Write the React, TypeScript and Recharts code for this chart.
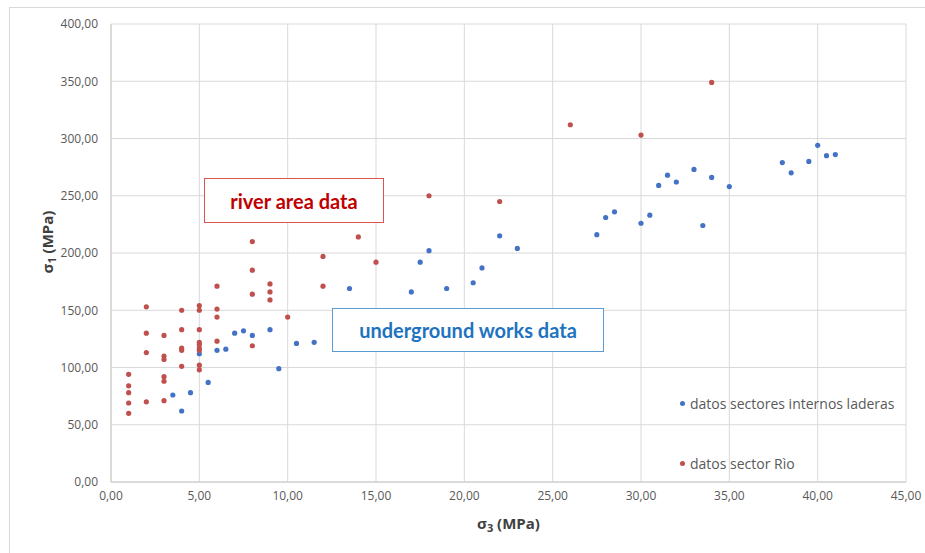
import React from 'react';
import { ScatterChart, Scatter, XAxis, YAxis, CartesianGrid, Legend, Label } from 'recharts';

// sigma3 / sigma1 (MPa)
const laderasSigma3 = [4, 3.5, 4.5, 5.5, 9.5, 5, 6, 6.5, 10.5, 11.5, 7, 7.5, 8, 9, 13.5, 17, 19, 20.5, 21, 17.5, 18, 22, 23, 27.5, 28, 28.5, 30, 30.5, 31, 31.5, 32, 33, 33.5, 34, 35, 38, 38.5, 39.5, 40, 40.5, 41];
const laderasSigma1 = [62, 76, 78, 87, 99, 112, 115, 116, 121, 122, 130, 132, 128, 133, 169, 166, 169, 174, 187, 192, 202, 215, 204, 216, 231, 236, 226, 233, 259, 268, 262, 273, 224, 266, 258, 279, 270, 280, 294, 285, 286];

const rioSigma3 = [1, 1, 1, 1, 1, 2, 2, 2, 2, 3, 3, 3, 3, 3, 3, 4, 4, 4, 4, 4, 5, 5, 5, 5, 5, 5, 5, 5, 5, 6, 6, 6, 6, 8, 8, 8, 8, 9, 9, 9, 10, 12, 12, 14, 15, 18, 22, 26, 30, 34];
const rioSigma1 = [94, 84, 78, 69, 60, 153, 130, 113, 70, 128, 110, 107, 92, 88, 71, 150, 133, 117, 115, 101, 154, 150, 133, 122, 120, 117, 115, 102, 98, 171, 151, 144, 123, 210, 185, 164, 119, 173, 166, 159, 144, 197, 171, 214, 192, 250, 245, 312, 303, 349];

const xTicks = [0, 5, 10, 15, 20, 25, 30, 35, 40, 45];
const yTicks = [0, 50, 100, 150, 200, 250, 300, 350, 400];

const seriesNames = ['datos sectores internos laderas', 'datos sector Rìo'];

const laderas = laderasSigma3.map((x, i) => ({ x, y: laderasSigma1[i] }));
const rio = rioSigma3.map((x, i) => ({ x, y: rioSigma1[i] }));

const BLUE = '#4472c4';
const RED = '#c0504d';
const FONT = '"Open Sans", sans-serif';

const fmt = (v: number) => v.toFixed(2).replace('.', ',');

const dot = (color: string) => (p: any) => <circle cx={p.cx} cy={p.cy} r={2.6} fill={color} />;

const sigmaTitle = (sub: string, vertical: boolean) => (props: any) => {
  const vb = props.viewBox || {};
  const cx = vertical ? 47 : vb.x + vb.width / 2;
  const cy = vertical ? 242 : 523;
  return (
    <text
      x={cx}
      y={cy}
      textAnchor="middle"
      dominantBaseline="central"
      transform={vertical ? `rotate(-90 ${cx} ${cy})` : undefined}
      fill="#404040"
      fontWeight="bold"
      fontSize={15}
      fontFamily={FONT}
    >
      σ<tspan fontSize={11} dy={4}>{sub}</tspan>
      <tspan dy={-4}> (MPa)</tspan>
    </text>
  );
};

const LegendBox = (props: any) => {
  const items = [...(props.payload || [])].sort(
    (a: any, b: any) => seriesNames.indexOf(a.value) - seriesNames.indexOf(b.value)
  );
  return (
    <div style={{ fontFamily: FONT, fontSize: 14, color: '#595959' }}>
      {items.map((it: any, i: number) => (
        <div key={i} style={{ display: 'flex', alignItems: 'center', height: 20, marginBottom: 40 }}>
          <span style={{ width: 5, height: 5, borderRadius: 3, background: it.color, marginRight: 5 }} />
          <span>{it.value}</span>
        </div>
      ))}
    </div>
  );
};

const boxStyle = (color: string, text: string): React.CSSProperties => ({
  position: 'absolute',
  boxSizing: 'border-box',
  border: `1.5px solid ${color}`,
  background: '#fff',
  color: text,
  fontFamily: 'Lato, sans-serif',
  fontWeight: 'bold',
  fontSize: 20,
  display: 'flex',
  alignItems: 'center',
  justifyContent: 'center',
});

export default function App() {
  return (
    <div style={{ position: 'absolute', left: 0, top: 0, width: 925, height: 553, background: '#fff', overflow: 'hidden' }}>
      <div style={{ position: 'absolute', left: 9, top: 7, width: 940, height: 600, border: '1px solid #d9d9d9' }} />
      <ScatterChart width={925} height={553} margin={{ top: 24, right: 19, bottom: 0, left: 0 }}>
        <CartesianGrid stroke="#d9d9d9" />
        <XAxis
          type="number"
          dataKey="x"
          domain={[0, 45]}
          ticks={xTicks}
          tickFormatter={fmt}
          height={71}
          tickLine={false}
          tickSize={6}
          tickMargin={3}
          axisLine={{ stroke: '#c8c8c8' }}
          tick={{ fill: '#595959', fontSize: 12, fontFamily: FONT }}
          interval={0}
        >
          <Label content={sigmaTitle('3', false)} />
        </XAxis>
        <YAxis
          type="number"
          dataKey="y"
          domain={[0, 400]}
          ticks={yTicks}
          tickFormatter={fmt}
          width={111}
          tickLine={false}
          tickSize={6}
          tickMargin={7}
          axisLine={{ stroke: '#c8c8c8' }}
          tick={{ fill: '#595959', fontSize: 12, fontFamily: FONT }}
          interval={0}
        >
          <Label content={sigmaTitle('1', true)} />
        </YAxis>
        <Legend
          layout="vertical"
          align="center"
          verticalAlign="middle"
          content={LegendBox}
          wrapperStyle={{ left: 680, top: 393, width: 240, height: 100 }}
        />
        <Scatter name={seriesNames[0]} data={laderas} fill={BLUE} shape={dot(BLUE)} isAnimationActive={false} />
        <Scatter name={seriesNames[1]} data={rio} fill={RED} shape={dot(RED)} isAnimationActive={false} />
      </ScatterChart>
      <div style={{ ...boxStyle('#d9534f', '#c00000'), left: 204, top: 178, width: 180, height: 45 }}>river area data</div>
      <div style={{ ...boxStyle('#5b9bd5', '#1e73c0'), left: 332, top: 308, width: 272, height: 44 }}>underground works data</div>
    </div>
  );
}
